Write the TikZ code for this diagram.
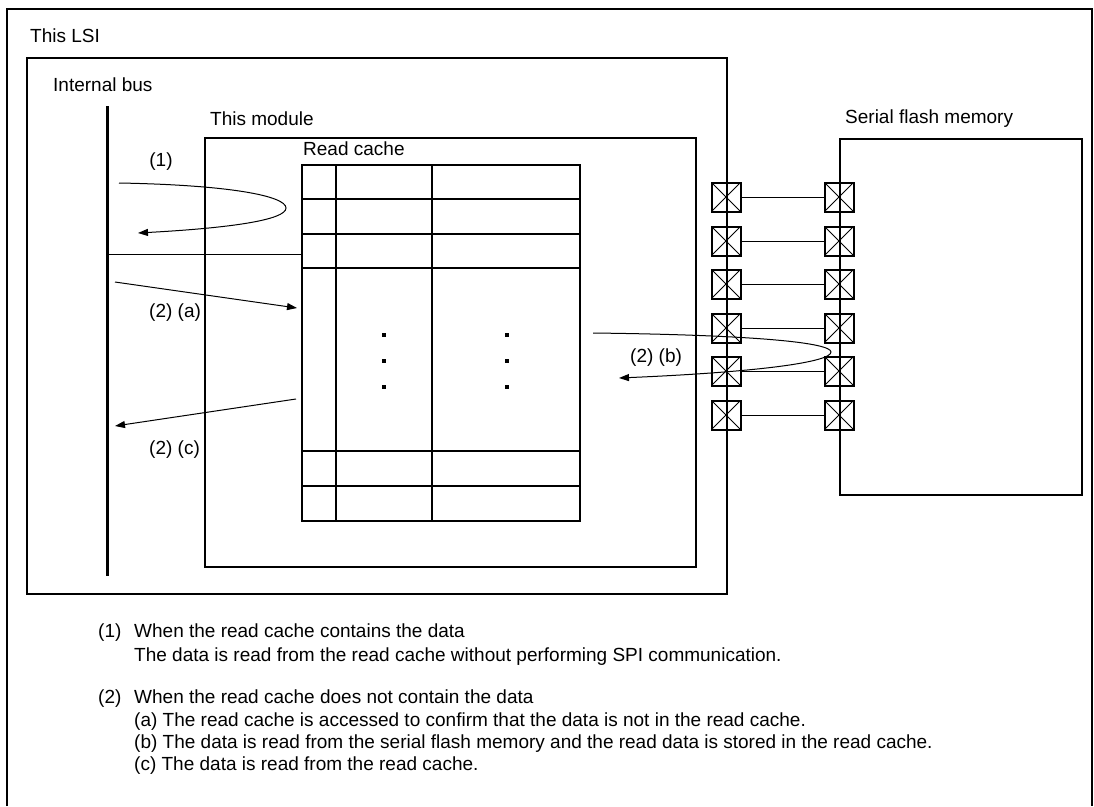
\documentclass[tikz,border=0pt]{standalone}
\usepackage{fontspec}
\setmainfont{Liberation Sans}
\usetikzlibrary{arrows.meta, positioning}

\begin{document}
\begin{tikzpicture}[x=1pt, y=-1pt, font=\fontsize{19}{23}\selectfont,
    frame box/.style={rectangle, draw, line width=2pt, inner sep=0pt, anchor=north west},
    label text/.style={anchor=base west, inner sep=0pt},
    pin/.style={rectangle, draw, line width=2pt, minimum size=29pt, inner sep=0pt,
                path picture={\draw[line width=1pt]
                    (path picture bounding box.north west) -- (path picture bounding box.south east)
                    (path picture bounding box.north east) -- (path picture bounding box.south west);}},
    wire/.style={line width=1pt},
    grid line/.style={line width=2pt},
    dot/.style={rectangle, fill, minimum size=4pt, inner sep=0pt},
    flow/.style={line width=1pt, -{Triangle[length=10pt, width=7pt]}},
]
    \useasboundingbox (0,0) rectangle (1094,806);

    % outer frame
    \draw[line width=2pt] (7,806) -- (7,9) -- (1092,9) -- (1092,806);

    % ── LSI and module ──
    \node[frame box, minimum width=700pt, minimum height=536pt] (lsi) at (26,57) {};
    \node[label text] (lsilabel) at (30,42) {This LSI};

    \node[frame box, minimum width=491pt, minimum height=429pt] (module) at (204,137) {};
    \node[label text] (modlabel) at (210,125) {This module};

    % internal bus
    \coordinate (bustop) at (107,106);
    \coordinate (busbot) at (107,576);
    \draw[line width=3pt] (bustop) -- (busbot);
    \node[label text] (buslabel) at (53,91) {Internal bus};

    % ── Read cache ──
    \node[frame box, minimum width=278pt, minimum height=356pt] (cache) at (301,164) {};
    \node[label text] (cachelabel) at (303,155) {Read cache};
    \foreach \x in {336,432}
        \draw[grid line] (\x,164) -- (\x,520);
    \foreach \y in {199,234,268,451,486}
        \draw[grid line] (301,\y) -- (579,\y);
    \foreach \x in {384,507}
        \foreach \y in {335,361,387}
            \node[dot] at (\x,\y) {};

    \coordinate (busjoin) at (107,254);
    \draw[wire] (busjoin) -- (busjoin -| cache.west);

    % ── Serial flash memory ──
    \node[frame box, minimum width=242pt, minimum height=356pt] (flash) at (839,138) {};
    \node[label text] (flashlabel) at (845,123) {Serial flash memory};

    \foreach \y [count=\i] in {197,241,284,328,371,415} {
        \node[pin] (lpin\i) at (726,\y) {};
        \node[pin] (rpin\i) at (839,\y) {};
        \draw[wire] (lpin\i) -- (rpin\i);
    }

    % ── Access flows ──
    \coordinate (hitstart) at (119,183);
    \coordinate (hitturn) at (286,208);
    \coordinate (hitend) at (138,233);
    \draw[flow] (hitstart) .. controls (230,185) and (286,196) .. (hitturn)
                .. controls (286,220) and (230,228) .. (hitend);
    \node[anchor=base, inner sep=0pt] (hitlabel) at (161,166) {(1)};

    \coordinate (astart) at (115,282);
    \coordinate (aend) at (297,308);
    \draw[flow] (astart) -- (aend);
    \node[label text] (alabel) at (149,317) {(2) (a)};

    \coordinate (bstart) at (593,333);
    \coordinate (bturn) at (831,352);
    \coordinate (bend) at (619,378);
    \draw[flow] (bstart) .. controls (760,335) and (831,343) .. (bturn)
                .. controls (831,362) and (760,372) .. (bend);
    \node[label text] (blabel) at (630,362) {(2) (b)};

    \coordinate (cstart) at (296,399);
    \coordinate (cend) at (115,426);
    \draw[flow] (cstart) -- (cend);
    \node[label text] (clabel) at (149,454) {(2) (c)};

    % ── Notes ──
    \node[label text] (note1) at (98,637) {(1)};
    \node[label text] (note1a) at (134,637) {When the read cache contains the data};
    \node[label text] (note1b) at (134,661) {The data is read from the read cache without performing SPI communication.};
    \node[label text] (note2) at (98,703) {(2)};
    \node[label text] (note2a) at (134,703) {When the read cache does not contain the data};
    \node[label text] (note2b) at (134,726) {(a) The read cache is accessed to confirm that the data is not in the read cache.};
    \node[label text] (note2c) at (134,748) {(b) The data is read from the serial flash memory and the read data is stored in the read cache.};
    \node[label text] (note2d) at (134,770) {(c) The data is read from the read cache.};

\end{tikzpicture}
\end{document}
